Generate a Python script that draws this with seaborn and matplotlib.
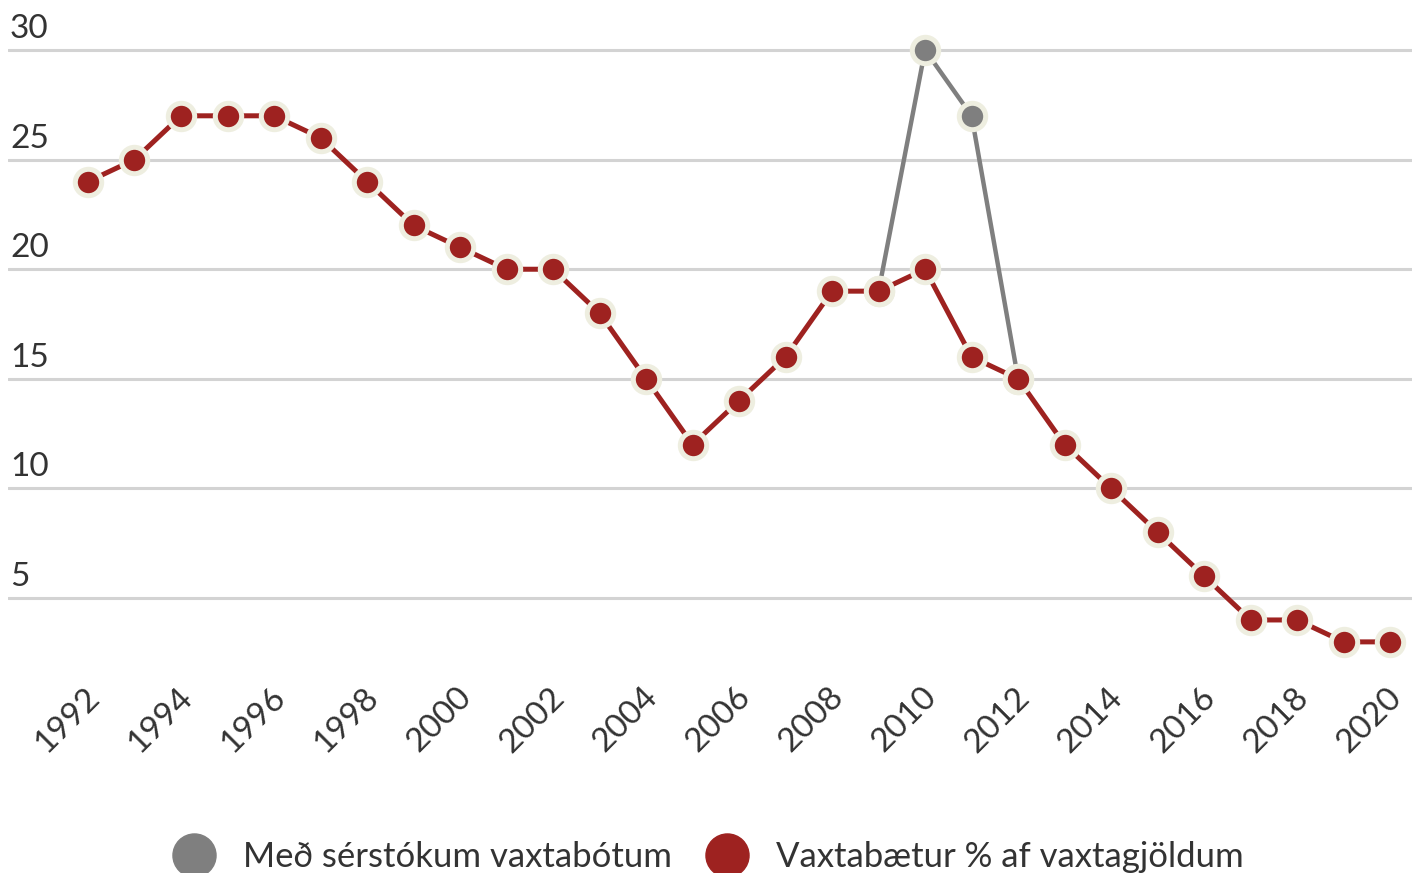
import matplotlib
matplotlib.use("Agg")
import matplotlib.pyplot as plt
import matplotlib.transforms as mtransforms
from matplotlib.lines import Line2D
import seaborn as sns
import pandas as pd

years = list(range(1992, 2021))
vaxtabaetur = [24, 25, 27, 27, 27, 26, 24, 22, 21, 20, 20, 18, 15, 12, 14, 16,
               19, 19, 20, 16, 15, 12, 10, 8, 6, 4, 4, 3, 3]
serstok_years = [2009, 2010, 2011, 2012]
serstok = [19, 30, 27, 15]
series_gray = "Með sérstókum vaxtabótum"
series_red = "Vaxtabætur % af vaxtagjöldum"
y_ticks = [5, 10, 15, 20, 25, 30]
x_ticks = list(range(1992, 2021, 2))

RED = "#9E2220"
GRAY = "#7F7F7F"
EDGE = "#EEEEE0"
TEXT = "#333333"

sns.set_theme(style="white")
plt.rcParams["font.family"] = ["Lato", "DejaVu Sans"]

df_red = pd.DataFrame({"year": years, "value": vaxtabaetur, "series": series_red})
df_gray = pd.DataFrame({"year": serstok_years, "value": serstok, "series": series_gray})

fig = plt.figure(figsize=(14.2, 8.73), dpi=100)
ax = fig.add_axes([8 / 1420, 1 - 663.8 / 873, 1404 / 1420, (663.8 - 6.2) / 873])

sns.lineplot(data=df_gray, x="year", y="value", color=GRAY, marker="o",
             markersize=19, markeredgecolor=EDGE, markeredgewidth=3.6,
             linewidth=3.2, ax=ax, legend=False, zorder=3)
sns.lineplot(data=df_red, x="year", y="value", color=RED, marker="o",
             markersize=19, markeredgecolor=EDGE, markeredgewidth=3.6,
             linewidth=3.6, ax=ax, legend=False, zorder=4)

ax.set_xlim(1990.28, 2020.47)
ax.set_ylim(2, 32)
ax.set_yticks(y_ticks)
ax.set_yticklabels([str(v) for v in y_ticks])
ax.set_xticks(x_ticks)
ax.set_xticklabels([str(v) for v in x_ticks])
ax.set_xlabel("")
ax.set_ylabel("")
ax.grid(axis="y", color="#D3D3D3", linewidth=2.2)
ax.grid(axis="x", visible=False)
ax.set_axisbelow(True)
for s in ax.spines.values():
    s.set_visible(False)
ax.tick_params(axis="both", length=0)

ax.tick_params(axis="y", pad=0, labelsize=24, labelcolor=TEXT)
yoff = mtransforms.ScaledTranslation(2 / 100, 6 / 100, fig.dpi_scale_trans)
for lab in ax.get_yticklabels():
    lab.set_ha("left")
    lab.set_va("bottom")
    lab.set_transform(lab.get_transform() + yoff)

ax.tick_params(axis="x", pad=0, labelsize=24, labelcolor=TEXT)
xoff = mtransforms.ScaledTranslation(-4 / 100, -18 / 100, fig.dpi_scale_trans)
for lab in ax.get_xticklabels():
    lab.set_rotation(45)
    lab.set_ha("right")
    lab.set_va("top")
    lab.set_rotation_mode("anchor")
    lab.set_transform(lab.get_transform() + xoff)

handles = [
    Line2D([0], [0], linestyle="none", marker="o", markersize=31, color=GRAY),
    Line2D([0], [0], linestyle="none", marker="o", markersize=31, color=RED),
]
leg = fig.legend(handles, [series_gray, series_red], loc="center", ncol=2,
                 bbox_to_anchor=(0.5, 1 - 857 / 873), frameon=False,
                 fontsize=25, handletextpad=0.9, columnspacing=1.1,
                 handlelength=1.0)
for t in leg.get_texts():
    t.set_color(TEXT)

fig.savefig("out.png", dpi=100)
